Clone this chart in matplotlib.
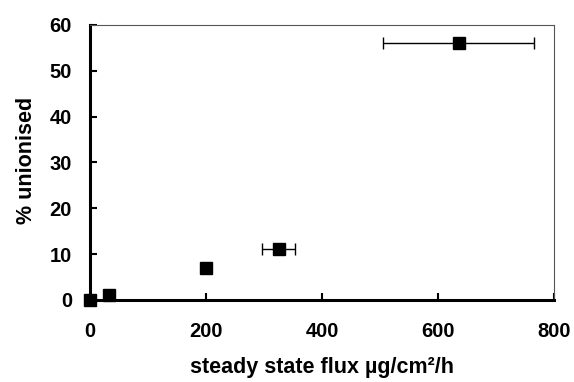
import matplotlib.pyplot as plt

plt.rcParams['font.family'] = ['Liberation Sans', 'DejaVu Sans']
plt.rcParams['font.weight'] = 'bold'

# data
flux = [0, 33, 200, 325, 636]
flux_err = [0, 0, 0, 28, 130]
unionised = [0, 1, 7, 11, 56]
xticks = [0, 200, 400, 600, 800]
yticks = [0, 10, 20, 30, 40, 50, 60]

fig = plt.figure(figsize=(5.74, 3.82), dpi=100)
ax = fig.add_axes([0.157, 0.215, 0.808, 0.72])

ax.errorbar(flux, unionised, xerr=flux_err, fmt='s', color='black',
            markersize=8, ecolor='black', elinewidth=1, capsize=4,
            capthick=1, clip_on=False, zorder=3)

ax.set_xlim(0, 800)
ax.set_ylim(0, 60)
ax.set_xticks(xticks)
ax.set_yticks(yticks)
ax.tick_params(direction='in', length=5, width=1.5, labelsize=14.5)
ax.tick_params(axis='x', pad=16)
ax.tick_params(axis='y', pad=13)
for lab in ax.get_xticklabels() + ax.get_yticklabels():
    lab.set_fontweight('bold')

ax.spines['left'].set_linewidth(2.2)
ax.spines['bottom'].set_linewidth(2.2)
ax.spines['top'].set_linewidth(0.8)
ax.spines['right'].set_linewidth(0.8)
ax.spines['top'].set_color('#555555')
ax.spines['right'].set_color('#555555')

fig.text(322 / 574, 1 - 367 / 382, 'steady state flux µg/cm²/h',
         fontsize=15.5, fontweight='bold', ha='center', va='center')
fig.text(27 / 574, 1 - 160 / 382, '% unionised', fontsize=15.5,
         fontweight='bold', ha='center', va='center', rotation=90)

fig.savefig('out.png', dpi=100)
